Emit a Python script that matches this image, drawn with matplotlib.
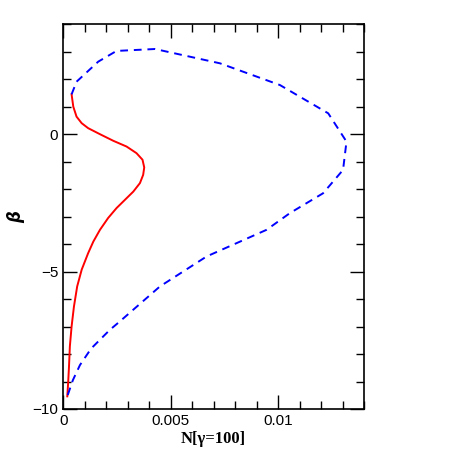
import matplotlib
matplotlib.use('Agg')
import matplotlib.pyplot as plt
from matplotlib.ticker import MultipleLocator

# red solid curve
red_n = [0.00039, 0.00047, 0.00062, 0.00086, 0.00116, 0.00171, 0.00233, 0.00295,
         0.00341, 0.00369, 0.00377, 0.00372, 0.00357, 0.00326, 0.00287, 0.00248,
         0.00209, 0.00171, 0.0014, 0.00116, 0.00086, 0.00065, 0.0005, 0.00039,
         0.00031, 0.00027, 0.00023, 0.00019]
red_beta = [1.45, 1.0, 0.64, 0.40, 0.22, 0.0, -0.24, -0.45,
            -0.69, -0.93, -1.21, -1.48, -1.78, -2.09, -2.39, -2.69,
            -3.05, -3.48, -3.91, -4.33, -4.93, -5.54, -6.27, -7.0,
            -7.72, -8.45, -9.05, -9.54]

# blue dashed curve
blue_n = [0.00039, 0.00062, 0.00163, 0.00248, 0.00427, 0.00729, 0.01008, 0.01233,
          0.01318, 0.01302, 0.01209, 0.01055, 0.00946, 0.00667, 0.0045,
          0.00264, 0.00217, 0.0013, 0.00078, 0.00045, 0.00019]
blue_beta = [1.45, 1.91, 2.64, 3.03, 3.10, 2.58, 1.79, 0.76,
             -0.27, -1.30, -2.15, -2.87, -3.48, -4.45, -5.54,
             -6.81, -7.12, -7.8, -8.4, -8.95, -9.54]

plt.rcParams['font.family'] = ['Liberation Sans', 'DejaVu Sans']

fig = plt.figure(figsize=(4.58, 4.58), dpi=100)
ax = fig.add_axes([0.138, 0.107, 0.657, 0.84])

ax.plot(red_n, red_beta, '-', color='red', lw=1.4)
ax.plot(blue_n, blue_beta, '--', color='blue', lw=1.4, dashes=(4, 3))

ax.set_xlim(0, 0.014)
ax.set_ylim(-10, 4)
ax.xaxis.set_minor_locator(MultipleLocator(0.001))
ax.yaxis.set_minor_locator(MultipleLocator(1))
ax.set_xticks([0, 0.005, 0.01])
ax.set_xticklabels(['0', '0.005', '0.01'])
ax.set_yticks([-10, -5, 0])
ax.set_yticklabels(['\u221210', '\u22125', '0'])
ax.tick_params(which='both', direction='in', top=True, right=True, labelsize=11, width=1)
ax.tick_params(which='major', length=10)
ax.tick_params(which='minor', length=5.5)
for s in ax.spines.values():
    s.set_linewidth(1.2)

ax.set_xlabel('N[\u03b3=100]', family='Liberation Serif', fontweight='bold', fontsize=12, labelpad=2)
ax.set_ylabel('\u03b2', family='DejaVu Sans', fontstyle='italic', fontweight='bold', fontsize=12, labelpad=5)

fig.savefig('out.png', dpi=100)
